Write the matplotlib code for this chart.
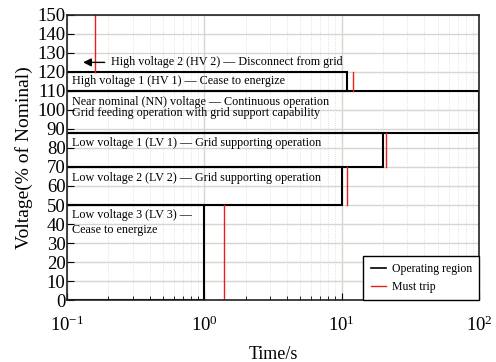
""" Voltage ride-through regions """

from matplotlib import pyplot as plt
import numpy as np

plt.rcParams['font.family'] = ['Liberation Serif', 'DejaVu Serif']
plt.rcParams['mathtext.fontset'] = 'custom'
plt.rcParams['mathtext.rm'] = 'Liberation Serif'

# operating regions: end time (s), lower and upper voltage (% of nominal)
op_time = [11, 100, 20, 10, 1.0]
op_low = [110, 88, 70, 50, 0]
op_high = [120, 110, 88, 70, 50]

# must trip lines: time (s), voltage span
trip_time = [0.16, 12, 21, 11, 1.4]
trip_low = [120, 110, 70, 50, 0]
trip_high = [150, 120, 88, 70, 50]

labels = [
    (0.109, 115, "High voltage 1 (HV 1) \u2014 Cease to energize"),
    (0.109, 104, "Near nominal (NN) voltage \u2014 Continuous operation"),
    (0.109, 98.2, "Grid feeding operation with grid support capability"),
    (0.109, 82.5, "Low voltage 1 (LV 1) \u2014 Grid supporting operation"),
    (0.109, 64, "Low voltage 2 (LV 2) \u2014 Grid supporting operation"),
    (0.109, 44.5, "Low voltage 3 (LV 3) \u2014"),
    (0.109, 36.8, "Cease to energize"),
]

fig = plt.figure(figsize=(4.96, 3.62), dpi=100)
ax = fig.add_axes([0.135, 0.171, 0.831, 0.788])

for t, lo, hi in zip(op_time, op_low, op_high):
    ax.plot([0.1, t, t, 0.1], [hi, hi, lo, lo], color='black', lw=1.5,
            solid_joinstyle='miter')
for t, lo, hi in zip(trip_time, trip_low, trip_high):
    ax.plot([t, t], [lo, hi], color='#e8201c', lw=1.0)

ax.plot([], [], color='black', lw=1.2, label='Operating region')
ax.plot([], [], color='#e8201c', lw=1.0, label='Must trip')

for x, y, s in labels:
    ax.text(x, y, s, fontsize=8.7, va='center', ha='left')

ax.annotate("", xy=(0.125, 125), xytext=(0.197, 125),
            arrowprops=dict(arrowstyle='-|>', color='black', lw=1,
                            mutation_scale=12))
ax.text(0.208, 125, "High voltage 2 (HV 2) \u2014 Disconnect from grid",
        fontsize=8.7, va='center', ha='left')

ax.set_xscale('log')
ax.set_xlim(0.1, 100)
ax.set_ylim(0, 150)
ax.set_yticks(np.arange(0, 151, 10))

ax.grid(True, which='major', color='#d8d4d0', lw=1.0)
ax.grid(True, which='minor', axis='x', color='#dcd8d4', lw=0.6, ls=':')
ax.set_axisbelow(True)

ax.tick_params(which='both', direction='in', labelsize=13.5)
ax.tick_params(which='major', length=5)
ax.tick_params(which='minor', length=3)
ax.tick_params(axis='x', which='major', pad=11)
ax.tick_params(axis='y', pad=1)
for sp in ax.spines.values():
    sp.set_linewidth(1.2)
    sp.set_color('#222222')

ax.set_xlabel("Time/s", fontsize=13, labelpad=8)
ax.set_ylabel("Voltage(% of Nominal)", fontsize=14, labelpad=3)

leg = ax.legend(loc='lower right', fontsize=8.5, fancybox=False,
                framealpha=1, edgecolor='black', borderaxespad=0.0,
                handlelength=1.3, handletextpad=0.5, borderpad=0.6)
leg.get_frame().set_linewidth(1.0)

fig.savefig("out.png", dpi=100)
